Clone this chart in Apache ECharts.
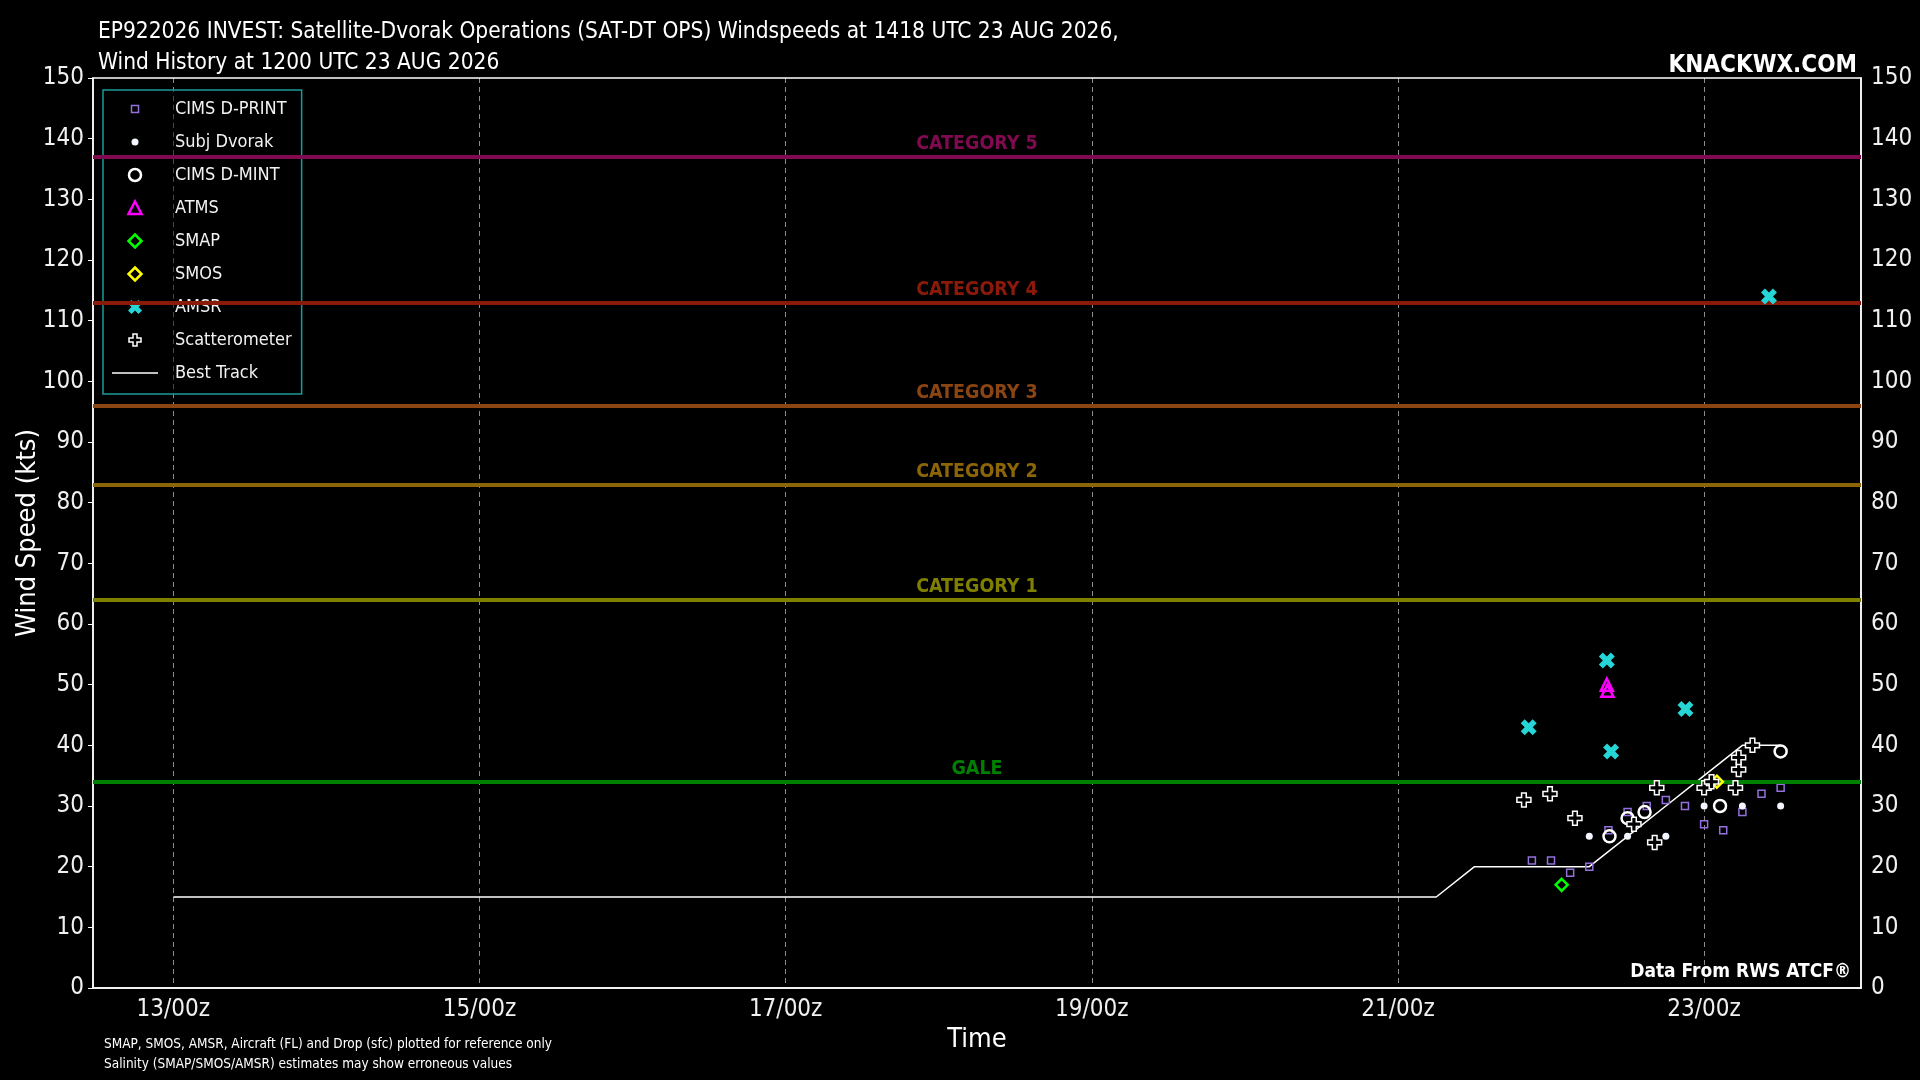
<!DOCTYPE html>
<html>
<head>
<meta charset="utf-8">
<title>EP922026 INVEST SAT-DT OPS</title>
<script src="https://cdn.jsdelivr.net/npm/echarts@6/dist/echarts.min.js"></script>
<style>
  html, body { margin: 0; padding: 0; background: #000; }
  #chart { width: 1920px; height: 1080px; }
</style>
</head>
<body>
<div id="chart"></div>
<script>
const FONT = "'Liberation Sans Narrow', 'DejaVu Sans Condensed', 'Roboto', sans-serif";

// all times are "DD/HHMM" UTC, August 2026
const dprintTimes = ['21/2100', '22/0000', '22/0300', '22/0600', '22/0900', '22/1200', '22/1500',
  '22/1800', '22/2100', '23/0000', '23/0300', '23/0600', '23/0900', '23/1200'];
const dprintKts = [21, 21, 19, 20, 26, 29, 30, 31, 30, 27, 26, 29, 32, 33];

const subjTimes = ['22/0600', '22/1200', '22/1800', '23/0000', '23/0600', '23/1200'];
const subjKts = [25, 25, 25, 30, 30, 30];

const dmintTimes = ['22/0910', '22/1200', '22/1440', '23/0230', '23/1200'];
const dmintKts = [25, 28, 29, 30, 39];

const atmsTimes = ['22/0845', '22/0850'];
const atmsKts = [50, 49];

const smapTimes = ['22/0140'];
const smapKts = [17];

const smosTimes = ['23/0200'];
const smosKts = [34];

const amsrTimes = ['21/2030', '22/0845', '22/0925', '22/2105', '23/1010'];
const amsrKts = [43, 54, 39, 46, 114];

const scatTimes = ['21/1945', '21/2350', '22/0345', '22/1300', '22/1615', '22/1635',
  '23/0000', '23/0110', '23/0455', '23/0525', '23/0525', '23/0735'];
const scatKts = [31, 32, 28, 27, 24, 33, 33, 34, 33, 36, 38, 40];

const bestTimes = ['13/0000', '13/0600', '13/1200', '13/1800', '14/0000', '14/0600', '14/1200', '14/1800',
  '15/0000', '15/0600', '15/1200', '15/1800', '16/0000', '16/0600', '16/1200', '16/1800',
  '17/0000', '17/0600', '17/1200', '17/1800', '18/0000', '18/0600', '18/1200', '18/1800',
  '19/0000', '19/0600', '19/1200', '19/1800', '20/0000', '20/0600', '20/1200', '20/1800',
  '21/0000', '21/0600', '21/1200', '21/1800', '22/0000', '22/0600', '22/1200', '22/1800',
  '23/0000', '23/0600', '23/1200'];
const bestKts = [15, 15, 15, 15, 15, 15, 15, 15,
  15, 15, 15, 15, 15, 15, 15, 15,
  15, 15, 15, 15, 15, 15, 15, 15,
  15, 15, 15, 15, 15, 15, 15, 15,
  15, 15, 20, 20, 20, 20, 25, 30,
  35, 40, 40];

const thresholdNames = ['GALE', 'CATEGORY 1', 'CATEGORY 2', 'CATEGORY 3', 'CATEGORY 4', 'CATEGORY 5'];
const thresholdKts = [34, 64, 83, 96, 113, 137];
const thresholdColors = ['#008000', '#808000', '#8b6508', '#8b4513', '#8b1a0a', '#800a50'];

const xTickDays = [13, 15, 17, 19, 21, 23];
const xTickLabels = ['13/00z', '15/00z', '17/00z', '19/00z', '21/00z', '23/00z'];

function toDay(t) {
  const [d, hm] = t.split('/');
  return +d + (+hm.slice(0, 2) + +hm.slice(2, 4) / 60) / 24;
}
function pts(times, kts) {
  return times.map((t, i) => [toDay(t), kts[i]]);
}

const PLUS = 'path://M-1,-3H1V-1H3V1H1V3H-1V1H-3V-1H-1Z';
const XMARK = 'path://M-3,-1.5L-1.5,-3L0,-1.5L1.5,-3L3,-1.5L1.5,0L3,1.5L1.5,3L0,1.5L-1.5,3L-3,1.5L-1.5,0Z';
const NOFILL = 'rgba(0,0,0,0)';
const AMSR_COLOR = '#26d6d6';

const myChart = echarts.init(document.querySelector('#chart'));

const yAxisBase = {
  type: 'value', min: 0, max: 150, interval: 10,
  axisLine: { show: true, lineStyle: { color: '#fff', width: 1.5 } },
  axisTick: { show: true, length: 5, lineStyle: { color: '#fff', width: 1 } },
  axisLabel: { color: '#f0f0f0', fontSize: 24, fontFamily: FONT, margin: 9 },
  splitLine: { show: false }
};

myChart.setOption({
  backgroundColor: '#000',
  animation: false,
  textStyle: { fontFamily: FONT },
  title: [
    {
      text: 'EP922026 INVEST: Satellite-Dvorak Operations (SAT-DT OPS) Windspeeds at 1418 UTC 23 AUG 2026,\nWind History at 1200 UTC 23 AUG 2026',
      left: 93, top: 12,
      textStyle: { color: '#fff', fontSize: 22.5, fontWeight: 'normal', lineHeight: 31, fontFamily: FONT }
    },
    {
      text: 'KNACKWX.COM', right: 58, top: 47,
      textStyle: { color: '#fff', fontSize: 24, fontWeight: 'bold', lineHeight: 28, fontFamily: FONT }
    },
    {
      text: 'Data From RWS ATCF®', right: 64, top: 955,
      textStyle: { color: '#fff', fontSize: 19, fontWeight: 'bold', lineHeight: 24, fontFamily: FONT }
    },
    {
      text: 'SMAP, SMOS, AMSR, Aircraft (FL) and Drop (sfc) plotted for reference only\nSalinity (SMAP/SMOS/AMSR) estimates may show erroneous values',
      left: 99, top: 1029,
      textStyle: { color: '#fff', fontSize: 13.5, fontWeight: 'normal', lineHeight: 20, fontFamily: FONT }
    }
  ],
  grid: {
    left: 93, right: 59, top: 78, bottom: 92,
    outerBoundsMode: 'none', containLabel: false,
    show: true, borderColor: '#fff', borderWidth: 1.5, backgroundColor: '#000'
  },
  legend: {
    orient: 'vertical', left: 103, top: 90,
    padding: [8, 10, 10, 9],
    itemWidth: 46, itemHeight: 14, itemGap: 11,
    borderColor: '#1a9a9a', borderWidth: 1.5, backgroundColor: 'rgba(0,0,0,0.5)',
    textStyle: { color: '#f2f2f2', fontSize: 18, lineHeight: 22, fontFamily: FONT, padding: [0, 0, 0, 12] },
    data: [
      { name: 'CIMS D-PRINT', icon: 'path://M0,0M14,14M3.5,3.5H10.5V10.5H3.5Z',
        itemStyle: { color: NOFILL, borderColor: '#9370db', borderWidth: 1.5 } },
      { name: 'Subj Dvorak', icon: 'path://M0,0M14,14M3.5,7A3.5,3.5,0,1,1,10.5,7A3.5,3.5,0,1,1,3.5,7Z',
        itemStyle: { color: '#f4f6ff', borderWidth: 0 } },
      { name: 'CIMS D-MINT', icon: 'path://M0,0M14,14M1,7A6,6,0,1,1,13,7A6,6,0,1,1,1,7Z',
        itemStyle: { color: NOFILL, borderColor: '#fff', borderWidth: 2.5 } },
      { name: 'ATMS', icon: 'path://M0,0M14,14M7,0.5L13.5,13H0.5Z',
        itemStyle: { color: NOFILL, borderColor: '#ff00ff', borderWidth: 2.5 } },
      { name: 'SMAP', icon: 'path://M0,0M14,14M7,0.5L13.5,7L7,13.5L0.5,7Z',
        itemStyle: { color: NOFILL, borderColor: '#00ff00', borderWidth: 2.5 } },
      { name: 'SMOS', icon: 'path://M0,0M14,14M7,0.5L13.5,7L7,13.5L0.5,7Z',
        itemStyle: { color: NOFILL, borderColor: '#ffff00', borderWidth: 2.5 } },
      { name: 'AMSR', icon: 'path://M0,3.5L3.5,0L7,3.5L10.5,0L14,3.5L10.5,7L14,10.5L10.5,14L7,10.5L3.5,14L0,10.5L3.5,7Z',
        itemStyle: { color: AMSR_COLOR, borderWidth: 0 } },
      { name: 'Scatterometer', icon: 'path://M0,0M14,14M5,1H9V5H13V9H9V13H5V9H1V5H5Z',
        itemStyle: { color: '#000', borderColor: '#fff', borderWidth: 1.5 } },
      { name: 'Best Track', icon: 'path://M0,0H46V1.5H0Z', itemStyle: { color: '#fff', borderWidth: 0 } }
    ]
  },
  xAxis: {
    type: 'value', min: 12.475, max: 24.025,
    name: 'Time', nameLocation: 'middle', nameGap: 38, nameMoveOverlap: false,
    nameTextStyle: { color: '#fff', fontSize: 27, fontFamily: FONT },
    axisLine: { show: true, onZero: false, lineStyle: { color: '#fff', width: 1.5 } },
    axisTick: { show: false, customValues: xTickDays },
    axisLabel: {
      color: '#f0f0f0', fontSize: 24, fontFamily: FONT, margin: 10,
      customValues: xTickDays,
      formatter: (v) => xTickLabels[xTickDays.indexOf(v)]
    },
    splitLine: { show: true, lineStyle: { color: 'rgba(255,255,255,0.55)', type: [5, 4], width: 1 } }
  },
  yAxis: [
    Object.assign({}, yAxisBase, {
      position: 'left', name: 'Wind Speed (kts)', nameLocation: 'middle', nameGap: 52,
      nameMoveOverlap: false,
      nameTextStyle: { color: '#fff', fontSize: 27, fontFamily: FONT }
    }),
    Object.assign({}, yAxisBase, {
      position: 'right', axisTick: { show: false },
      axisLabel: { color: '#f0f0f0', fontSize: 24, fontFamily: FONT, margin: 10 }
    })
  ],
  series: [
    {
      name: 'thresholds', type: 'line', data: [], z: 1, silent: true,
      markLine: {
        silent: true, symbol: ['none', 'none'],
        data: thresholdKts.map((v, i) => ({
          yAxis: v, name: thresholdNames[i],
          lineStyle: { color: thresholdColors[i], width: 4, type: 'solid' },
          label: {
            show: true, position: 'insideMiddleTop', distance: 3, formatter: '{b}',
            color: thresholdColors[i], fontSize: 19.5, fontWeight: 'bold', fontFamily: FONT
          }
        }))
      }
    },
    {
      name: 'Best Track', type: 'line', data: pts(bestTimes, bestKts), z: 3,
      symbol: 'none', lineStyle: { color: '#fff', width: 1.5 }, itemStyle: { color: '#fff' }
    },
    {
      name: 'CIMS D-PRINT', type: 'scatter', data: pts(dprintTimes, dprintKts), z: 4,
      symbol: 'rect', symbolSize: 7,
      itemStyle: { color: NOFILL, borderColor: '#9370db', borderWidth: 1.5, opacity: 1 }
    },
    {
      name: 'Subj Dvorak', type: 'scatter', data: pts(subjTimes, subjKts), z: 4,
      symbol: 'circle', symbolSize: 7, itemStyle: { color: '#f4f6ff', opacity: 1 }
    },
    {
      name: 'CIMS D-MINT', type: 'scatter', data: pts(dmintTimes, dmintKts), z: 5,
      symbol: 'circle', symbolSize: 12,
      itemStyle: { color: NOFILL, borderColor: '#fff', borderWidth: 2.5, opacity: 1 }
    },
    {
      name: 'ATMS', type: 'scatter', data: pts(atmsTimes, atmsKts), z: 5,
      symbol: 'triangle', symbolSize: 12,
      itemStyle: { color: NOFILL, borderColor: '#ff00ff', borderWidth: 2.5, opacity: 1 }
    },
    {
      name: 'SMAP', type: 'scatter', data: pts(smapTimes, smapKts), z: 5,
      symbol: 'diamond', symbolSize: 12,
      itemStyle: { color: NOFILL, borderColor: '#00ff00', borderWidth: 2.5, opacity: 1 }
    },
    {
      name: 'SMOS', type: 'scatter', data: pts(smosTimes, smosKts), z: 5,
      symbol: 'diamond', symbolSize: 12,
      itemStyle: { color: NOFILL, borderColor: '#ffff00', borderWidth: 2.5, opacity: 1 }
    },
    {
      name: 'AMSR', type: 'scatter', data: pts(amsrTimes, amsrKts), z: 5,
      symbol: XMARK, symbolSize: 16, itemStyle: { color: AMSR_COLOR, opacity: 1 }
    },
    {
      name: 'Scatterometer', type: 'scatter', data: pts(scatTimes, scatKts), z: 5,
      symbol: PLUS, symbolSize: 14,
      itemStyle: { color: '#000', borderColor: '#fff', borderWidth: 1.5, opacity: 1 }
    }
  ]
});
</script>
</body>
</html>
